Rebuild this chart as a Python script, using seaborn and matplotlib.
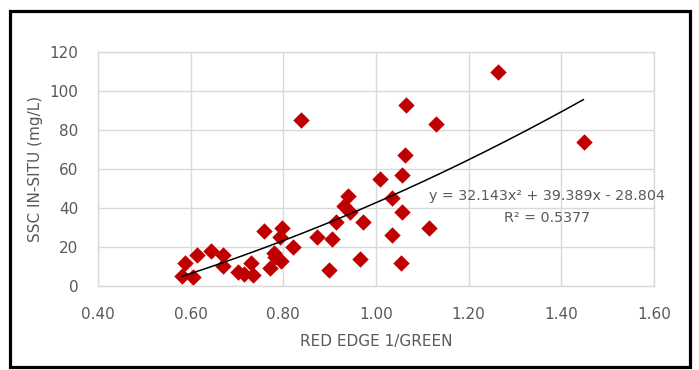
import numpy as np
import pandas as pd
import matplotlib
matplotlib.use('Agg')
import matplotlib.pyplot as plt
import seaborn as sns
from matplotlib.patches import Rectangle

# values
red_edge_green = [0.581, 0.588, 0.606, 0.613, 0.643, 0.670, 0.669, 0.703, 0.716, 0.731,
                  0.734, 0.759, 0.772, 0.779, 0.782, 0.794, 0.797, 0.793, 0.820, 0.839,
                  0.872, 0.905, 0.898, 0.913, 0.932, 0.940, 0.943, 0.972, 0.966, 1.009,
                  1.034, 1.034, 1.054, 1.056, 1.056, 1.063, 1.065, 1.114, 1.130, 1.264, 1.448]
ssc_in_situ = [5, 12, 4.5, 16, 18, 16, 10.5, 7, 6, 12,
               5.5, 28, 9, 17, 15, 13, 30, 25, 20, 85,
               25, 24, 8, 33, 41, 46, 38, 33, 14, 55,
               45, 26, 12, 38, 57, 67, 93, 30, 83, 110, 74]

# polynomial trendline shown on the chart (x^2, x, const)
trend_coef = [32.143, 39.389, -28.804]
trend_range = [0.581, 1.448]
equation_text = "y = 32.143x² + 39.389x - 28.804"
r2_text = "R² = 0.5377"

x_ticks = [0.40, 0.60, 0.80, 1.00, 1.20, 1.40, 1.60]
y_ticks = [0, 20, 40, 60, 80, 100, 120]

df = pd.DataFrame({'ratio': red_edge_green, 'ssc': ssc_in_situ})

sns.set_style('white')
plt.rcParams['font.family'] = ['DejaVu Sans']

grey = '#595959'
grid_col = '#d9d9d9'

fig = plt.figure(figsize=(6.99, 3.70), dpi=100)
ax = fig.add_axes([98 / 699, 1 - 286 / 370, 556 / 699, 234 / 370])

sns.scatterplot(data=df, x='ratio', y='ssc', marker='D', s=70, color='#c00000',
                linewidth=0, ax=ax, zorder=3)

xs = np.linspace(trend_range[0], trend_range[1], 200)
ax.plot(xs, np.polyval(trend_coef, xs), color='black', lw=1.1, zorder=4)

ax.set_xlim(0.4, 1.6)
ax.set_ylim(0, 120)
ax.set_xticks(x_ticks)
ax.set_xticklabels([f'{t:.2f}' for t in x_ticks])
ax.set_yticks(y_ticks)
ax.grid(True, color=grid_col, lw=1.0)
ax.set_axisbelow(True)
for sp in ax.spines.values():
    sp.set_color(grid_col)
    sp.set_linewidth(1.0)
ax.tick_params(axis='x', length=0, pad=15, labelsize=11, labelcolor=grey)
ax.tick_params(axis='y', length=0, pad=14, labelsize=11, labelcolor=grey)

ax.set_xlabel('RED EDGE 1/GREEN', fontsize=11, color=grey)
ax.set_ylabel('SSC IN-SITU (mg/L)', fontsize=11, color=grey)
ax.xaxis.set_label_coords(0.5, -0.205)
ax.yaxis.set_label_coords(-0.113, 0.5)
ax.yaxis.label.set_va('center')

ax.text(1.37, 46, equation_text, ha='center', va='center', fontsize=10.3, color=grey)
ax.text(1.37, 34.7, r2_text, ha='center', va='center', fontsize=10.3, color=grey)

# black frame around the whole chart
fig.patches.append(Rectangle((10 / 699, 3.5 / 370), 680 / 699, 356 / 370,
                             transform=fig.transFigure, fill=False,
                             edgecolor='black', lw=2.3))

fig.savefig('out.png', dpi=100)
